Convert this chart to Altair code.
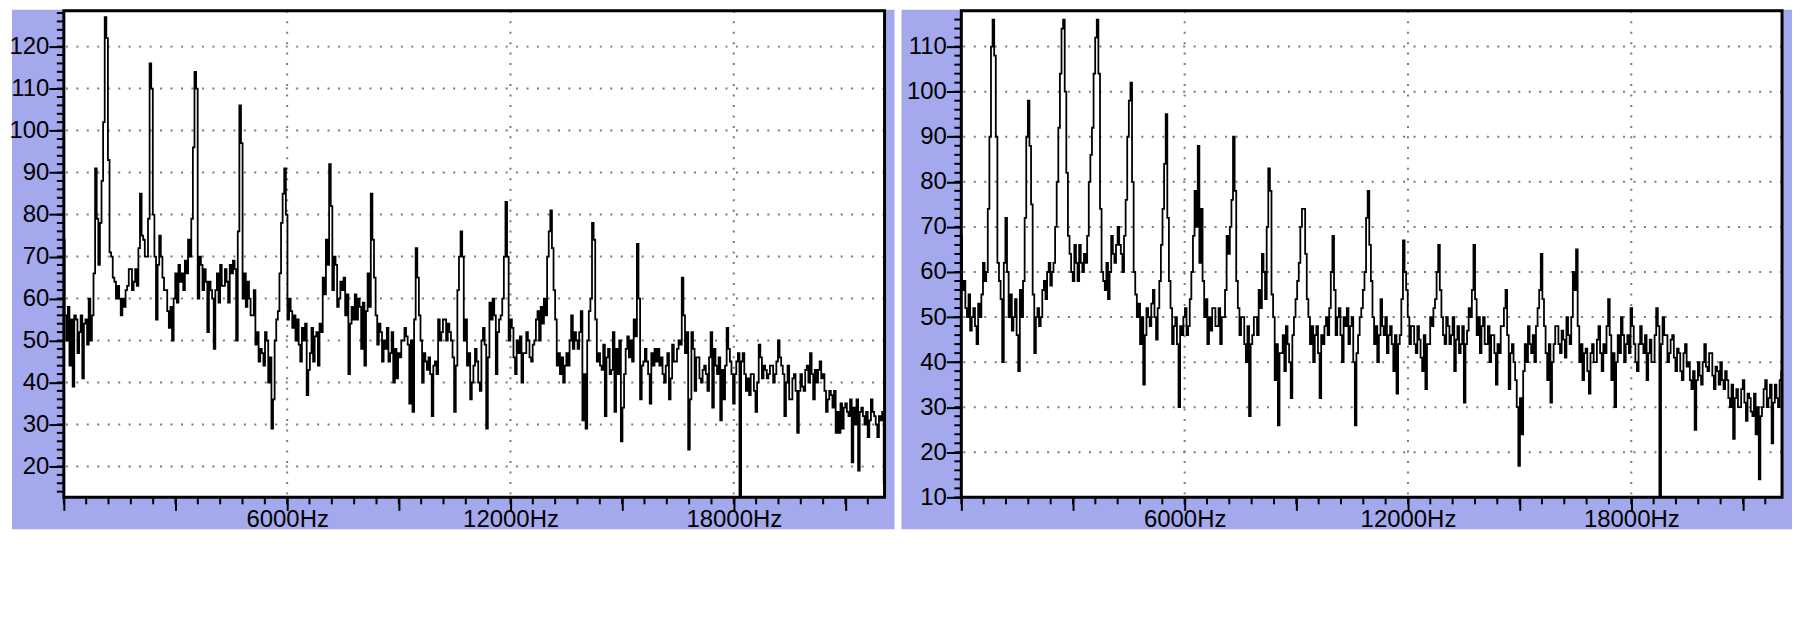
import altair as alt
import pandas as pd

# ---------------- data: dB per FFT bin (0..22050 Hz) ----------------
NYQUIST = 22050

# left spectrum: even bins and odd bins (512 bins over 0..22050 Hz)
LEFT_EVEN = [
    74, 50, 44, 39, 55, 52, 41, 55, 60, 56, 91, 68, 88, 127, 93, 70, 64, 63, 56, 58,
    63, 67, 64, 63, 85, 74, 70, 116, 80, 55, 75, 65, 62, 53, 50, 66, 68, 66, 69, 74,
    79, 114, 60, 68, 67, 52, 62, 48, 66, 68, 63, 64, 68, 69, 50, 106, 60, 58, 60, 56,
    49, 45, 47, 52, 40, 29, 50, 57, 78, 91, 55, 57, 56, 55, 45, 50, 37, 47, 45, 52,
    54, 65, 74, 92, 62, 68, 60, 62, 56, 42, 58, 61, 60, 48, 44, 66, 85, 65, 49, 52,
    50, 53, 47, 40, 41, 46, 50, 51, 35, 33, 72, 56, 40, 45, 46, 32, 45, 55, 52, 55,
    54, 50, 33, 62, 76, 50, 44, 36, 44, 45, 38, 53, 29, 59, 60, 42, 55, 60, 83, 50,
    53, 42, 47, 40, 47, 50, 45, 50, 57, 58, 60, 70, 81, 62, 44, 42, 40, 47, 50, 48,
    50, 52, 31, 29, 57, 78, 55, 47, 43, 32, 48, 43, 33, 42, 26, 42, 51, 50, 55, 73,
    36, 45, 45, 35, 44, 45, 44, 42, 44, 36, 49, 45, 50, 65, 47, 24, 52, 38, 46, 40,
    44, 38, 52, 48, 42, 31, 36, 53, 45, 35, 45, 13, 47, 38, 37, 42, 33, 49, 41, 43,
    42, 44, 42, 50, 44, 32, 44, 36, 42, 28, 42, 38, 44, 47, 36, 40, 45, 42, 33, 38,
    34, 28, 28, 29, 35, 32, 21, 30, 19, 34, 30, 27, 36, 32, 27, 31, 16,
]
LEFT_ODD = [
    56, 58, 55, 56, 47, 56, 54, 49, 50, 66, 79, 78, 102, 122, 71, 65, 60, 60, 60, 62,
    67, 62, 67, 72, 75, 70, 79, 110, 70, 68, 70, 62, 57, 58, 60, 59, 64, 62, 66, 70,
    96, 110, 70, 62, 64, 64, 60, 62, 59, 63, 67, 59, 66, 67, 76, 97, 66, 64, 56, 62,
    52, 48, 44, 50, 46, 36, 55, 66, 85, 80, 60, 53, 50, 49, 53, 54, 43, 53, 51, 44,
    52, 61, 68, 82, 70, 58, 64, 65, 61, 54, 55, 55, 58, 59, 57, 58, 74, 56, 54, 45,
    48, 45, 52, 48, 47, 50, 53, 49, 50, 55, 65, 50, 47, 43, 42, 44, 42, 50, 55, 50,
    52, 46, 44, 70, 70, 55, 47, 40, 48, 40, 50, 49, 46, 55, 56, 52, 56, 70, 70, 55,
    46, 50, 51, 47, 52, 46, 49, 55, 50, 54, 56, 76, 72, 55, 47, 46, 44, 44, 56, 52,
    48, 57, 42, 50, 60, 74, 45, 44, 49, 46, 42, 52, 48, 50, 34, 48, 46, 45, 51, 60,
    44, 48, 42, 47, 48, 48, 46, 40, 47, 41, 45, 48, 49, 56, 52, 36, 48, 46, 41, 43,
    42, 46, 34, 44, 46, 43, 44, 48, 42, 42, 47, 45, 42, 41, 42, 38, 40, 46, 44, 41,
    44, 40, 45, 46, 42, 40, 36, 41, 38, 38, 39, 43, 40, 42, 43, 43, 41, 38, 36, 37,
    38, 33, 35, 34, 33, 36, 34, 36, 33, 32, 33, 31, 33, 30, 32, 33,
]

# right spectrum: even bins and odd bins
RIGHT_EVEN = [
    68, 58, 50, 47, 52, 44, 50, 62, 60, 90, 116, 90, 58, 40, 72, 50, 47, 54, 38, 50,
    72, 98, 75, 42, 52, 50, 58, 60, 57, 62, 80, 104, 116, 82, 64, 58, 62, 66, 60, 62,
    80, 92, 112, 104, 60, 56, 54, 68, 62, 70, 64, 68, 90, 102, 60, 50, 44, 35, 52, 48,
    56, 45, 58, 74, 95, 58, 44, 50, 30, 46, 52, 48, 60, 78, 88, 74, 50, 44, 47, 52,
    48, 44, 50, 68, 70, 90, 58, 46, 50, 40, 28, 46, 50, 56, 64, 54, 83, 55, 36, 26,
    42, 38, 44, 32, 50, 58, 70, 74, 54, 44, 40, 48, 32, 44, 50, 52, 68, 46, 52, 40,
    48, 44, 50, 26, 46, 52, 60, 78, 58, 44, 40, 54, 46, 42, 48, 38, 33, 46, 67, 56,
    44, 48, 42, 45, 38, 34, 44, 48, 54, 66, 50, 44, 48, 46, 38, 48, 44, 31, 47, 50,
    66, 46, 42, 50, 44, 40, 46, 35, 42, 48, 56, 34, 44, 36, 17, 24, 44, 48, 42, 40,
    52, 64, 48, 36, 31, 44, 48, 42, 45, 50, 44, 60, 65, 40, 36, 43, 33, 44, 40, 48,
    38, 42, 54, 36, 30, 46, 50, 40, 46, 52, 44, 38, 48, 42, 36, 45, 40, 52, 10, 50,
    46, 42, 46, 38, 42, 36, 44, 40, 34, 25, 40, 35, 44, 38, 42, 34, 38, 40, 34, 36,
    30, 23, 34, 30, 36, 27, 32, 28, 24, 14, 30, 36, 32, 22, 35, 30, 38,
]
RIGHT_ODD = [
    56, 52, 55, 50, 48, 53, 55, 58, 74, 110, 108, 62, 54, 62, 60, 55, 50, 46, 56, 58,
    90, 88, 55, 50, 48, 56, 54, 62, 60, 70, 92, 114, 100, 68, 60, 66, 58, 62, 64, 68,
    86, 104, 116, 74, 58, 62, 60, 64, 66, 66, 60, 76, 98, 80, 55, 53, 50, 46, 50, 53,
    50, 52, 66, 84, 72, 52, 48, 44, 48, 50, 46, 54, 68, 70, 62, 58, 54, 50, 52, 48,
    52, 50, 56, 64, 76, 78, 52, 50, 44, 48, 44, 50, 46, 52, 60, 70, 78, 50, 44, 42,
    46, 48, 40, 46, 54, 62, 74, 64, 50, 48, 46, 42, 46, 48, 46, 60, 56, 50, 46, 50,
    52, 48, 40, 42, 50, 56, 72, 66, 50, 48, 46, 48, 50, 46, 44, 46, 44, 54, 60, 50,
    48, 44, 48, 41, 46, 44, 50, 52, 60, 56, 46, 50, 44, 50, 45, 42, 48, 44, 52, 56,
    54, 50, 48, 44, 48, 46, 42, 44, 48, 52, 46, 42, 40, 30, 32, 38, 40, 44, 46, 48,
    56, 54, 42, 44, 40, 48, 44, 47, 41, 46, 50, 56, 48, 44, 42, 38, 42, 40, 45, 42,
    44, 48, 46, 42, 40, 42, 46, 44, 42, 48, 40, 44, 44, 46, 42, 40, 46, 48, 44, 46,
    40, 45, 41, 43, 38, 42, 39, 36, 38, 36, 37, 40, 39, 42, 37, 39, 35, 36, 38, 32,
    35, 32, 30, 34, 31, 33, 29, 33, 30, 28, 34, 30, 35, 31, 32, 36,
]

X_MAJOR = [0, 3000, 6000, 9000, 12000, 15000, 18000, 21000]
X_MINOR = [k * 600 for k in range(37)]
X_GRID = [6000, 12000, 18000]

LEFT_Y = {"domain": [12.64, 128.55], "major": list(range(20, 121, 10)),
          "minor": list(range(14, 129, 2)), "grid": list(range(20, 121, 10))}
RIGHT_Y = {"domain": [10, 117.96], "major": list(range(10, 111, 10)),
           "minor": list(range(10, 118, 2)), "grid": list(range(20, 111, 10))}


def interleave(even, odd):
    out = []
    for k, v in enumerate(even):
        out.append(v)
        if k < len(odd):
            out.append(odd[k])
    return out


def spectrum_frame(values):
    n = len(values) - 1
    return pd.DataFrame({"freq": [k * NYQUIST / n for k in range(n + 1)], "db": values})


# ---------------- style ----------------
W, H = 823, 488
PURPLE = "#A4A8EC"
GRID = "#7A7A7A"
FONT = "Liberation Sans Narrow, Arial Narrow, Liberation Sans, Arial"
FS = 24


def panel(df, ycfg, bg_left):
    xs = alt.Scale(domain=[0, NYQUIST], nice=False, zero=False)
    ys = alt.Scale(domain=ycfg["domain"], nice=False, zero=False)
    one = pd.DataFrame({"k": [0]})

    bg = alt.Chart(one).mark_rect(color=PURPLE).encode(
        x=alt.value(bg_left), x2=alt.value(833), y=alt.value(-1), y2=alt.value(520))
    plot_bg = alt.Chart(one).mark_rect(color="white").encode(
        x=alt.value(0), x2=alt.value(W), y=alt.value(0), y2=alt.value(H))

    hgrid = alt.Chart(pd.DataFrame({"v": ycfg["grid"]})).mark_rule(
        color=GRID, strokeWidth=2, strokeDash=[2, 8.5]).encode(
        y=alt.Y("v:Q", scale=ys), x=alt.value(2), x2=alt.value(W))
    vgrid = alt.Chart(pd.DataFrame({"f": X_GRID})).mark_rule(
        color=GRID, strokeWidth=2, strokeDash=[2, 8.5]).encode(
        x=alt.X("f:Q", scale=xs), y=alt.value(0), y2=alt.value(H))

    xminor = alt.Chart(pd.DataFrame({"f": X_MINOR})).mark_rule(
        color="black", strokeWidth=2).encode(
        x=alt.X("f:Q", scale=xs), y=alt.value(H), y2=alt.value(H + 7))
    yminor = alt.Chart(pd.DataFrame({"v": ycfg["minor"]})).mark_rule(
        color="black", strokeWidth=2).encode(
        y=alt.Y("v:Q", scale=ys), x=alt.value(-7), x2=alt.value(0))

    line = alt.Chart(df).mark_line(
        color="black", strokeWidth=1.8, interpolate="step", clip=True).encode(
        x=alt.X("freq:Q", scale=xs, axis=alt.Axis(
            values=X_MAJOR, tickSize=13, tickWidth=2, tickColor="black",
            domain=False, grid=False, title=None, zindex=1,
            labelExpr="(datum.value % 6000 == 0 && datum.value > 0) ? datum.value + 'Hz' : ''",
            labelFont=FONT, labelFontSize=FS, labelColor="black", labelPadding=-3,
            labelOverlap=False, labelFlush=False, labelBound=False)),
        y=alt.Y("db:Q", scale=ys, axis=alt.Axis(
            values=ycfg["major"], tickSize=15, tickWidth=2, tickColor="black",
            domain=False, grid=False, title=None, zindex=1, format="d",
            labelFont=FONT, labelFontSize=FS, labelColor="black", labelPadding=0,
            labelOverlap=False, labelFlush=False, labelBound=False)),
    )

    border = alt.Chart(one).mark_rect(
        fillOpacity=0, stroke="black", strokeWidth=3).encode(
        x=alt.value(0), x2=alt.value(W), y=alt.value(0), y2=alt.value(H))

    return alt.layer(bg, plot_bg, hgrid, vgrid, xminor, yminor, line, border).properties(
        width=W, height=H)


left = panel(spectrum_frame(interleave(LEFT_EVEN, LEFT_ODD)), LEFT_Y, -52)
right = panel(spectrum_frame(interleave(RIGHT_EVEN, RIGHT_ODD)), RIGHT_Y, -60)

chart = alt.hconcat(left, right, spacing=77, bounds="flush").properties(
    padding=0, background="white").configure_view(stroke=None)

chart.save("out.html", embed_options={"renderer": "svg", "actions": False})
